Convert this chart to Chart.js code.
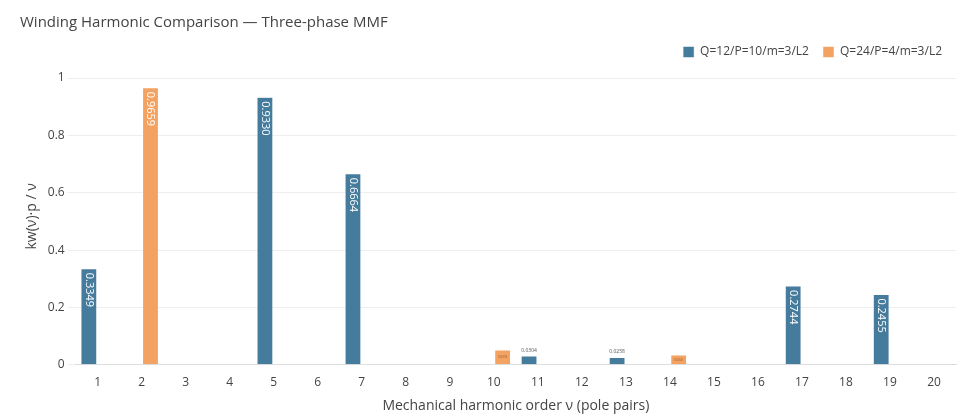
<!DOCTYPE html>
<html><head><meta charset="utf-8">
<script src="https://cdn.jsdelivr.net/npm/chart.js@4"></script>
<style>html,body{margin:0;background:#fff}#w{width:978px;height:416px;position:relative}</style>
</head><body><div id="w"><canvas id="c"></canvas></div>
<script>
const categories = ['1','2','3','4','5','6','7','8','9','10','11','12','13','14','15','16','17','18','19','20'];
const seriesA = [0.3349,null,null,null,0.9330,null,0.6664,null,null,null,0.0304,null,0.0258,null,null,null,0.2744,null,0.2455,null];
const seriesB = [null,0.9659,null,null,null,null,null,null,null,0.0518,null,null,null,0.0341,null,null,null,null,null,null];
const yTicks = [0,0.2,0.4,0.6,0.8,1];
const labelPlugin = {
  id:'lbl',
  afterDatasetsDraw(chart){
    const ctx=chart.ctx;
    chart.data.datasets.forEach((ds,i)=>{
      chart.getDatasetMeta(i).data.forEach((bar,j)=>{
        const v=ds.data[j]; if(v==null) return;
        const t=v.toFixed(4); const h=bar.base-bar.y;
        ctx.save();
        if(h>45){
          ctx.translate(bar.x,bar.y+4); ctx.rotate(Math.PI/2);
          ctx.fillStyle='#fff'; ctx.font='11px "Open Sans"'; ctx.textAlign='left'; ctx.textBaseline='middle';
          ctx.fillText(t,0,0);
        } else if(i===0){
          ctx.fillStyle='#555'; ctx.font='5px "Open Sans"'; ctx.textAlign='center'; ctx.textBaseline='bottom';
          ctx.fillText(t,bar.x,bar.y-3);
        } else {
          ctx.fillStyle='#8a5a30'; ctx.font='3px "Open Sans"'; ctx.textAlign='center'; ctx.textBaseline='middle';
          ctx.fillText(t,bar.x,bar.y+h/2);
        }
        ctx.restore();
      });
    });
  }
};
new Chart(document.getElementById('c'),{
  type:'bar',
  data:{labels:categories,datasets:[
    {label:'Q=12/P=10/m=3/L2',data:seriesA,backgroundColor:'#457b9d',borderColor:'#ffffff',borderWidth:0.5},
    {label:'Q=24/P=4/m=3/L2',data:seriesB,backgroundColor:'#f4a261',borderColor:'#ffffff',borderWidth:0.5}
  ]},
  options:{
    responsive:true,maintainAspectRatio:false,animation:false,
    layout:{padding:{left:20,right:22,top:6,bottom:2}},
    datasets:{bar:{categoryPercentage:0.8,barPercentage:0.9}},
    plugins:{
      title:{display:true,text:'Winding Harmonic Comparison — Three-phase MMF',align:'start',color:'#444',font:{family:'"Open Sans"',size:15,weight:'normal'},padding:{top:8,bottom:0}},
      legend:{align:'end',labels:{boxWidth:11,boxHeight:11,color:'#444',font:{family:'"Open Sans"',size:12},padding:14}},
      tooltip:{enabled:false}
    },
    scales:{
      x:{grid:{display:false},border:{color:'#ddd'},ticks:{color:'#444',font:{family:'"Open Sans"',size:12}},
        title:{display:true,text:'Mechanical harmonic order ν (pole pairs)',color:'#444',font:{family:'"Open Sans"',size:14},padding:{top:4,bottom:0}}},
      y:{min:0,max:1.035,afterBuildTicks(a){a.ticks=yTicks.map(v=>({value:v}));},
        grid:{color:'#eee'},border:{display:false},
        ticks:{color:'#444',font:{family:'"Open Sans"',size:12},callback:v=>String(v)},
        title:{display:true,text:'kw(ν)·p / ν',color:'#444',font:{family:'"Open Sans"',size:14}}}
    }
  },
  plugins:[labelPlugin]
});
</script></body></html>
